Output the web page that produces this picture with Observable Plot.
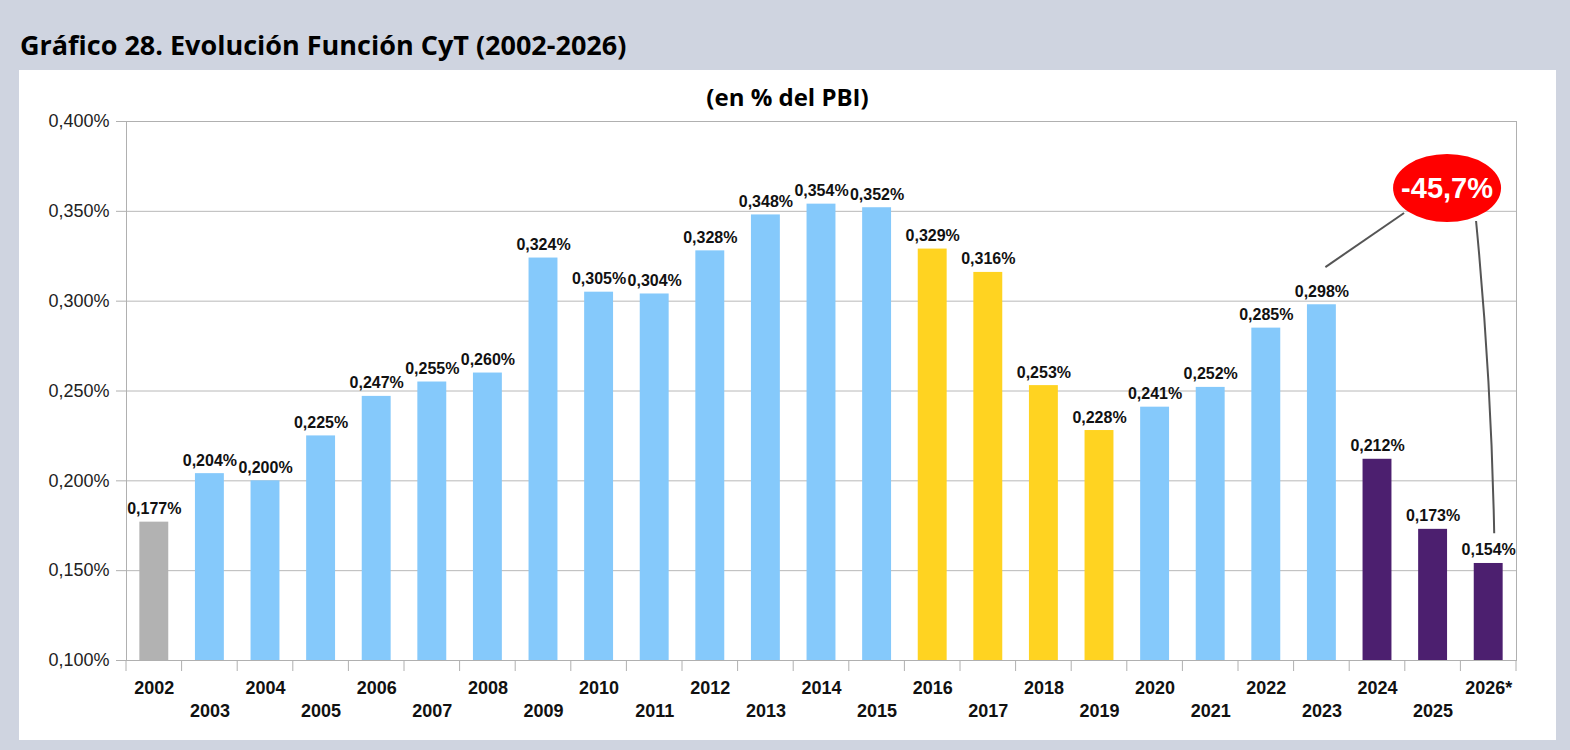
<!DOCTYPE html>
<html><head><meta charset="utf-8">
<script src="https://cdn.jsdelivr.net/npm/d3@7"></script>
<script src="https://cdn.jsdelivr.net/npm/@observablehq/plot@0.6"></script>
<style>
body{margin:0;background:#cfd4e0;width:1570px;height:750px;overflow:hidden;position:relative;font-family:"Liberation Sans",Arial,sans-serif}
#title{position:absolute;left:20px;top:26px;font-family:"Open Sans";font-weight:700;font-size:27px;color:#000;white-space:nowrap}
#panel{position:absolute;left:19px;top:70px;width:1537px;height:670px;background:#fff}
#subtitle{position:absolute;left:19px;width:1537px;top:80px;text-align:center;font-family:"Open Sans";font-weight:700;font-size:24px;color:#000}
#chart{position:absolute;left:0;top:70px}
</style></head><body>
<div id="title">Gráfico 28. Evolución Función CyT (2002-2026)</div>
<div id="panel"></div>
<div id="subtitle">(en % del PBI)</div>
<div id="chart"></div>
<script>
const years = ["2002","2003","2004","2005","2006","2007","2008","2009","2010","2011","2012","2013","2014","2015","2016","2017","2018","2019","2020","2021","2022","2023","2024","2025","2026*"];
const values = [0.177,0.204,0.200,0.225,0.247,0.255,0.260,0.324,0.305,0.304,0.328,0.348,0.354,0.352,0.329,0.316,0.253,0.228,0.241,0.252,0.285,0.298,0.212,0.173,0.154];
const periods = ["2002","2003-2015","2003-2015","2003-2015","2003-2015","2003-2015","2003-2015","2003-2015","2003-2015","2003-2015","2003-2015","2003-2015","2003-2015","2003-2015","2016-2019","2016-2019","2016-2019","2016-2019","2020-2023","2020-2023","2020-2023","2020-2023","2024-2026","2024-2026","2024-2026"];
const periodNames = ["2002","2003-2015","2016-2019","2020-2023","2024-2026"];
const periodColors = ["#b2b2b2","#85c9fb","#ffd321","#85c9fb","#4c1f6f"];
const yTicks = [0.100,0.150,0.200,0.250,0.300,0.350,0.400];
const changeFrom = "2023";
const changeTo = "2026*";
const changeLabel = "-45,7%";

const data = years.map((year, i) => ({year, value: values[i], period: periods[i]}));
const fmt = v => v.toFixed(3).replace(".", ",") + "%";
const PAD = 0.48;

const evenYears = years.filter((d, i) => i % 2 === 0);
const oddYears = years.filter((d, i) => i % 2 === 1);

function slotTicks(index, scales) {
  const x = scales.x, y = scales.y;
  const step = x(years[1]) - x(years[0]);
  const g = d3.create("svg:g").attr("stroke", "#b0b0b0").attr("stroke-width", 1);
  const y0 = y(0.1);
  years.forEach((d, i) => {
    const bx = x(d) - PAD * step / 2;
    g.append("line").attr("x1", bx).attr("x2", bx).attr("y1", y0).attr("y2", y0 + 11);
  });
  const last = x(years[years.length - 1]) + step * (1 - PAD) + PAD * step / 2;
  g.append("line").attr("x1", last).attr("x2", last).attr("y1", y0).attr("y2", y0 + 11);
  return g.node();
}

function annotation(index, scales) {
  const x = scales.x, y = scales.y;
  const step = x(years[1]) - x(years[0]);
  const bw = step * (1 - PAD);
  const center = d => x(d) + bw / 2;
  const valueOf = d => values[years.indexOf(d)];
  const cx = center("2025") + 0.26 * step;
  const cy = y(0.3627);
  const rx = 54, ry = 34;
  const g = d3.create("svg:g");
  const p0 = [center(changeFrom) + 4, y(valueOf(changeFrom) + 0.0207)];
  const p1 = [cx - 43, cy + 25];
  g.append("path").attr("d", `M${p0}L${p1}`).attr("stroke", "#555").attr("stroke-width", 2).attr("fill", "none");
  const q0 = [cx + 29, cy + 33];
  const q2 = [center(changeTo) + 6, y(valueOf(changeTo) + 0.0166)];
  const qc = [q2[0] - 3, (q0[1] + q2[1]) / 2];
  g.append("path").attr("d", `M${q0}Q${qc} ${q2}`).attr("stroke", "#555").attr("stroke-width", 2).attr("fill", "none");
  g.append("ellipse").attr("cx", cx).attr("cy", cy).attr("rx", rx).attr("ry", ry).attr("fill", "#ff0000");
  g.append("text").attr("x", cx).attr("y", cy).attr("dy", "0.36em").attr("text-anchor", "middle")
    .attr("fill", "#fff").attr("font-weight", "bold").attr("font-size", 29)
    .attr("font-family", "'Liberation Sans', Arial, sans-serif").text(changeLabel);
  return g.node();
}

const chart = Plot.plot({
  width: 1570,
  height: 670,
  marginLeft: 126,
  marginRight: 54,
  marginTop: 51,
  marginBottom: 80,
  style: {background: "transparent", fontFamily: "'Liberation Sans', Arial, sans-serif", overflow: "visible", color: "#1a1a1a"},
  x: {domain: years, paddingInner: PAD, paddingOuter: PAD / 2, round: false},
  y: {domain: [0.1, 0.4]},
  color: {domain: periodNames, range: periodColors},
  marks: [
    Plot.gridY(yTicks, {stroke: "#b8b8b8", strokeOpacity: 1}),
    Plot.frame({stroke: "#b0b0b0"}),
    Plot.barY(data, {x: "year", y1: () => 0.1, y2: "value", fill: "period"}),
    Plot.axisY({ticks: yTicks, tickFormat: fmt, tickSize: 10, tickPadding: 7, fontSize: 18, stroke: "#b0b0b0", fill: "#222", label: null}),
    slotTicks,
    Plot.axisX({ticks: evenYears, tickSize: 0, tickPadding: 21, fontSize: 18, fontWeight: "bold", fill: "#111", label: null}),
    Plot.axisX({ticks: oddYears, tickSize: 0, tickPadding: 44, fontSize: 18, fontWeight: "bold", fill: "#111", label: null}),
    Plot.text(data, {x: "year", y: "value", text: d => fmt(d.value), dy: -8, lineAnchor: "bottom", fontWeight: "bold", fontSize: 16, fill: "#111"}),
    annotation
  ]
});
document.getElementById("chart").appendChild(chart);
</script>
</body></html>
